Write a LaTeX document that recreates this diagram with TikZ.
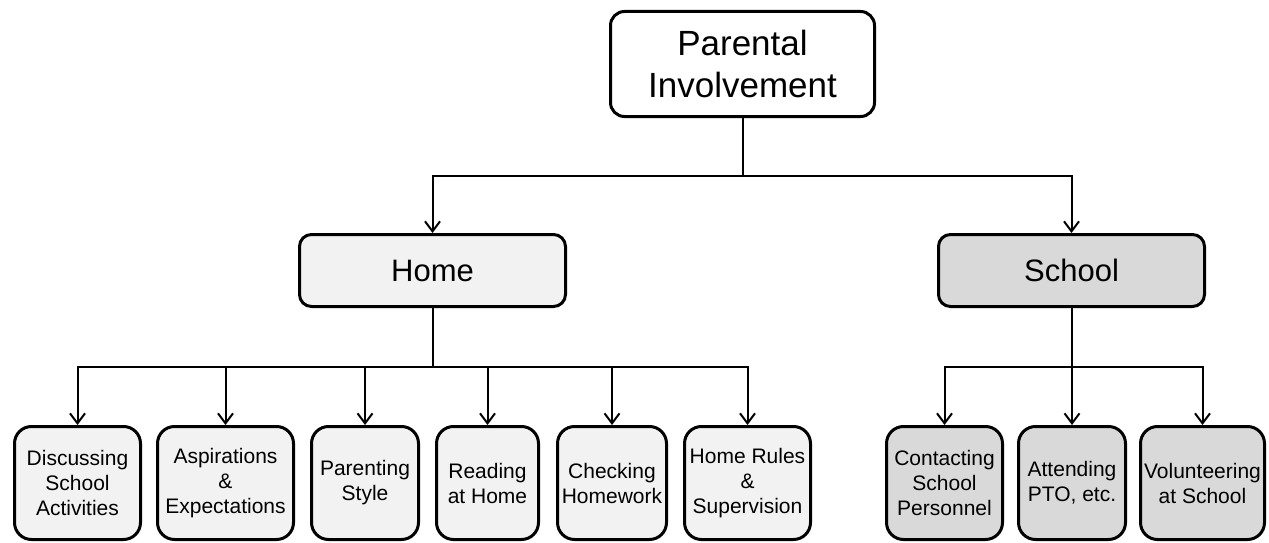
\documentclass[tikz,border=0pt]{standalone}
\usepackage{fontspec}
\setmainfont{Liberation Sans}
\usetikzlibrary{arrows.meta}
\definecolor{homefill}{HTML}{F2F2F2}
\definecolor{schoolfill}{HTML}{D9D9D9}
\begin{document}
\begin{tikzpicture}[x=1pt,y=-1pt,
  box/.style={draw=black, line width=3pt, rounded corners=14pt, inner sep=0pt, align=center},
  topbox/.style={box, fill=white, minimum width=264pt, minimum height=105pt, font=\fontsize{35}{42}\selectfont},
  midbox/.style={box, rounded corners=12pt, minimum height=72pt, minimum width=266pt, font=\fontsize{31}{36}\selectfont},
  leaf/.style={box, rounded corners=17pt, minimum height=113pt, font=\fontsize{21}{25}\selectfont},
  homeleaf/.style={leaf, fill=homefill},
  schoolleaf/.style={leaf, fill=schoolfill},
  conn/.style={line width=2pt},
  arr/.style={conn, -{Straight Barb[length=10pt,width=15pt,line width=2pt]}}
]
\useasboundingbox (0,0) rectangle (1269,543);

\node[topbox] (top) at (742.5,64) {Parental\\Involvement};
\node[midbox, fill=homefill] (home) at (432.5,270.5) {Home};
\node[midbox, fill=schoolfill] (school) at (1071.5,270.5) {School};

\node[homeleaf, minimum width=126pt] (h1) at (77.5,483) {Discussing\\School\\Activities};
\node[homeleaf, minimum width=136pt] (h2) at (225.5,483) {Aspirations\\\&\\Expectations};
\node[homeleaf, minimum width=107pt] (h3) at (365,483) {Parenting\\Style};
\node[homeleaf, minimum width=102pt] (h4) at (487.5,483) {Reading\\at Home};
\node[homeleaf, minimum width=109pt] (h5) at (612,483) {Checking\\Homework};
\node[homeleaf, minimum width=126pt] (h6) at (747.5,483) {Home Rules\\\&\\Supervision};

\node[schoolleaf, minimum width=116pt] (s1) at (944.5,483) {Contacting\\School\\Personnel};
\node[schoolleaf, minimum width=107pt] (s2) at (1072,483) {Attending\\PTO, etc.};
\node[schoolleaf, minimum width=124pt] (s3) at (1202.5,483) {Volunteering\\at School};

% top level
\draw[conn] (top.south) -- ++(0,58) coordinate (tb);
\draw[arr] (tb) -| (home.north);
\draw[arr] (tb) -| (school.north);

% home level
\draw[conn] (home.south) -- ++(0,59) coordinate (hb);
\foreach \n in {h1,h2,h3,h4,h5,h6}{
  \draw[arr] (hb) -| (\n.north);
}

% school level
\draw[conn] (school.south) -- ++(0,59) coordinate (sb);
\foreach \n in {s1,s2,s3}{
  \draw[arr] (sb) -| (\n.north);
}
\end{tikzpicture}
\end{document}
